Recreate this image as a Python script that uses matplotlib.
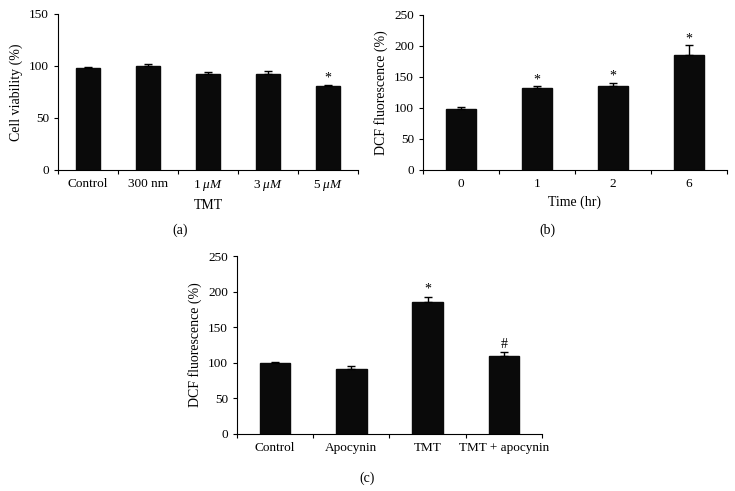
import numpy as np
import matplotlib
matplotlib.use("Agg")
import matplotlib.pyplot as plt

plt.rcParams['font.family'] = ['Liberation Serif', 'DejaVu Serif']
plt.rcParams['mathtext.fontset'] = 'custom'
plt.rcParams['mathtext.it'] = 'Liberation Serif:italic'
plt.rcParams['mathtext.rm'] = 'Liberation Serif'

# (a) cell viability
a_labels = ["Control", "300 nm", r"1 $\mu M$", r"3 $\mu M$", r"5 $\mu M$"]
a_values = [98.5, 100, 92, 92.5, 80.5]
a_errors = [1, 2, 2.5, 3, 1.5]
a_marks = ["", "", "", "", "*"]

# (b) DCF over time
b_labels = ["0", "1", "2", "6"]
b_values = [98, 133, 136, 185]
b_errors = [3, 2, 5, 16]
b_marks = ["", "*", "*", "*"]

# (c) DCF with apocynin
c_labels = ["Control", "Apocynin", "TMT", "TMT + apocynin"]
c_values = [100, 91, 185, 110]
c_errors = [1.5, 4, 7, 5]
c_marks = ["", "", "*", "#"]


def draw_panel(ax, labels, values, errors, marks, ymax, ystep, ylabel, xlabel, star_pad):
    n = len(labels)
    x = np.arange(n)
    ax.bar(x, values, width=0.4, color="#0a0a0a", edgecolor="#0a0a0a", zorder=2)
    ax.errorbar(x, values, yerr=[np.zeros(n), errors], fmt="none",
                ecolor="black", elinewidth=1, capsize=3, capthick=1, zorder=3)
    for xi, v, e, m in zip(x, values, errors, marks):
        if m:
            ax.text(xi, v + e + star_pad, m, ha="center", va="bottom", fontsize=10)
    ax.set_xlim(-0.5, n - 0.5)
    ax.set_ylim(0, ymax)
    ax.set_yticks(np.arange(0, ymax + 1, ystep))
    ax.set_xticks(x)
    ax.set_xticklabels(labels)
    ax.set_xticks(np.arange(-0.5, n, 1), minor=True)
    ax.tick_params(axis="x", which="major", length=0, labelsize=9.5, pad=6)
    ax.tick_params(axis="x", which="minor", length=3, width=0.8)
    ax.tick_params(axis="y", length=3, width=0.8, labelsize=9.5)
    ax.spines["top"].set_visible(False)
    ax.spines["right"].set_visible(False)
    ax.spines["left"].set_linewidth(0.8)
    ax.spines["bottom"].set_linewidth(0.8)
    ax.set_ylabel(ylabel, fontsize=10)
    if xlabel:
        ax.set_xlabel(xlabel, fontsize=10, labelpad=4)


fig = plt.figure(figsize=(7.35, 4.91), dpi=100)

ax_a = fig.add_axes([0.0789, 0.6538, 0.408, 0.3177])
draw_panel(ax_a, a_labels, a_values, a_errors, a_marks, 150, 50,
           "Cell viability (%)", "TMT", 0)

ax_b = fig.add_axes([0.5755, 0.6538, 0.4135, 0.3157])
draw_panel(ax_b, b_labels, b_values, b_errors, b_marks, 250, 50,
           "DCF fluorescence (%)", "Time (hr)", 0)

ax_c = fig.add_axes([0.3224, 0.1161, 0.415, 0.3625])
draw_panel(ax_c, c_labels, c_values, c_errors, c_marks, 250, 50,
           "DCF fluorescence (%)", None, 2)

fig.text(180 / 735, 1 - 230 / 491, "(a)", ha="center", va="center", fontsize=10)
fig.text(547 / 735, 1 - 230 / 491, "(b)", ha="center", va="center", fontsize=10)
fig.text(367 / 735, 1 - 478 / 491, "(c)", ha="center", va="center", fontsize=10)

fig.savefig("out.png", dpi=100)
